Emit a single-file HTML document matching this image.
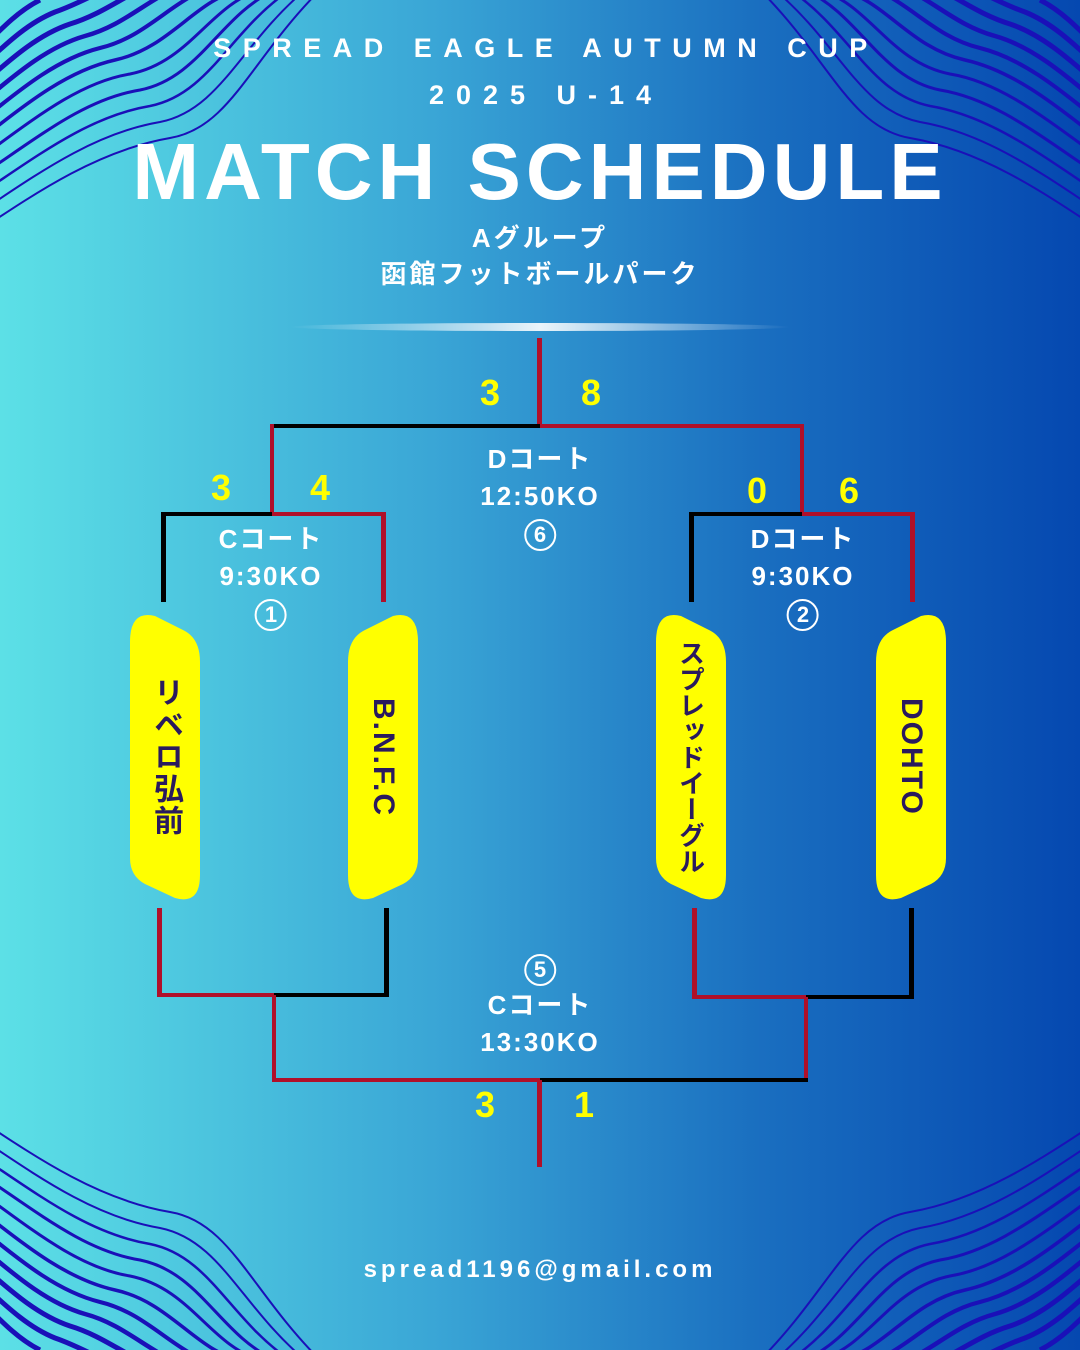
<!DOCTYPE html>
<html><head><meta charset="utf-8"><style>
*{margin:0;padding:0;box-sizing:border-box}
body{width:1080px;height:1350px;overflow:hidden;position:relative;background:linear-gradient(90deg,#5ce0e6 0%,#3aa6d6 40%,#1a6fc0 70%,#0548b0 100%);font-family:"Liberation Sans","Noto Sans CJK JP",sans-serif;color:#fff}
.t{position:absolute;left:0;width:1080px;text-align:center;font-weight:bold;white-space:nowrap}
.l{position:absolute;background:#000}
.r{position:absolute;background:#b0102a}
.s{position:absolute;color:#ffff00;font-weight:bold;font-size:36px;transform:translateX(-50%);line-height:1}
.c{position:absolute;text-align:center;font-weight:bold;font-size:26px;line-height:37px;letter-spacing:2px;transform:translateX(-50%);white-space:nowrap}
.p{position:absolute;width:70px;height:290px;color:#2a1a5e;font-weight:bold;font-size:30px;writing-mode:vertical-rl;display:flex;align-items:center;justify-content:center;letter-spacing:2px}
.n{display:inline-block;width:32px;height:32px;border:2px solid #fff;border-radius:50%;font-size:22px;line-height:28px;letter-spacing:0}
</style></head><body>
<svg width="1080" height="1350" style="position:absolute;left:0;top:0">
<defs><g id="w" fill="none" stroke="#1a10b8">
<path d="M-20,230 C40,190 100,150 170,138 C230,128 250,60 320,-10" stroke-width="2"/>
<path d="M-20,212 C40,172 95,133 160,122 C220,110 240,45 305,-10" stroke-width="2"/>
<path d="M-20,194 C40,154 90,116 150,106 C210,94 230,30 290,-10" stroke-width="2.5"/>
<path d="M-20,176 C40,136 85,99 140,90 C200,78 220,15 275,-10" stroke-width="3"/>
<path d="M-20,158 C35,118 80,82 130,74 C190,62 210,5 260,-10" stroke-width="3"/>
<path d="M-20,140 C30,100 70,70 115,60 C170,48 195,0 240,-10" stroke-width="3.5"/>
<path d="M-20,122 C25,85 60,58 100,48 C150,36 175,-5 220,-15" stroke-width="4"/>
<path d="M-20,104 C20,70 50,46 85,36 C130,24 155,-10 200,-20" stroke-width="4.5"/>
<path d="M-20,86 C15,55 40,34 70,24 C110,12 135,-15 180,-25" stroke-width="5"/>
<path d="M-20,68 C10,40 30,22 55,12 C90,0 115,-20 160,-30" stroke-width="5"/>
<path d="M-20,50 C5,25 20,10 40,0" stroke-width="5"/>
</g>
<path id="pl" d="M130,642 Q130,610 155,616 L183,630 Q200,638 200,662 L200,875 Q200,905 175,898 L145,884 Q130,876 130,858 Z" fill="#ffff00"/>
<linearGradient id="g" x1="0" x2="1"><stop offset="0" stop-color="#fff" stop-opacity="0"/><stop offset=".5" stop-color="#fff" stop-opacity=".9"/><stop offset="1" stop-color="#fff" stop-opacity="0"/></linearGradient></defs>
<use href="#w"/>
<use href="#w" transform="translate(1080,0) scale(-1,1)"/>
<use href="#w" transform="translate(0,1350) scale(1,-1)"/>
<use href="#w" transform="translate(1080,1350) scale(-1,-1)"/>
<ellipse cx="540" cy="327" rx="250" ry="4" fill="url(#g)"/>
<use href="#pl"/>
<use href="#pl" transform="translate(526,0)"/>
<use href="#pl" transform="translate(548,0) scale(-1,1)"/>
<use href="#pl" transform="translate(1076,0) scale(-1,1)"/>
</svg>
<div class="t" style="top:33px;font-size:27px;letter-spacing:11.5px;padding-left:12px">SPREAD EAGLE AUTUMN CUP</div>
<div class="t" style="top:80px;font-size:27px;letter-spacing:12px;padding-left:12px">2025 U-14</div>
<div class="t" style="top:124px;font-size:80px;letter-spacing:5px;line-height:96px">MATCH SCHEDULE</div>
<div class="t" style="top:220px;font-size:26px;letter-spacing:3px;line-height:36px">Aグループ<br>函館フットボールパーク</div>

<div class="r" style="left:537px;top:338px;width:5px;height:90px"></div>
<div class="l" style="left:272px;top:424px;width:268px;height:4px"></div>
<div class="r" style="left:540px;top:424px;width:264px;height:4px"></div>
<div class="r" style="left:270px;top:424px;width:4px;height:92px"></div>
<div class="r" style="left:800px;top:424px;width:4px;height:92px"></div>
<div class="l" style="left:161px;top:512px;width:111px;height:4px"></div>
<div class="r" style="left:272px;top:512px;width:114px;height:4px"></div>
<div class="l" style="left:161px;top:512px;width:5px;height:90px"></div>
<div class="r" style="left:381px;top:512px;width:5px;height:90px"></div>
<div class="l" style="left:689px;top:512px;width:113px;height:4px"></div>
<div class="r" style="left:802px;top:512px;width:113px;height:4px"></div>
<div class="l" style="left:689px;top:512px;width:5px;height:90px"></div>
<div class="r" style="left:910px;top:512px;width:5px;height:90px"></div>

<div class="r" style="left:157px;top:908px;width:5px;height:89px"></div>
<div class="l" style="left:384px;top:908px;width:5px;height:89px"></div>
<div class="r" style="left:157px;top:993px;width:117px;height:4px"></div>
<div class="l" style="left:274px;top:993px;width:115px;height:4px"></div>
<div class="r" style="left:692px;top:908px;width:5px;height:91px"></div>
<div class="l" style="left:909px;top:908px;width:5px;height:91px"></div>
<div class="r" style="left:692px;top:995px;width:114px;height:4px"></div>
<div class="l" style="left:806px;top:995px;width:108px;height:4px"></div>
<div class="r" style="left:272px;top:995px;width:4px;height:87px"></div>
<div class="r" style="left:804px;top:997px;width:4px;height:85px"></div>
<div class="r" style="left:272px;top:1078px;width:268px;height:4px"></div>
<div class="l" style="left:540px;top:1078px;width:268px;height:4px"></div>
<div class="r" style="left:537px;top:1080px;width:5px;height:87px"></div>

<div class="s" style="left:490px;top:375px">3</div>
<div class="s" style="left:591px;top:375px">8</div>
<div class="s" style="left:221px;top:470px">3</div>
<div class="s" style="left:320px;top:470px">4</div>
<div class="s" style="left:757px;top:473px">0</div>
<div class="s" style="left:849px;top:473px">6</div>
<div class="s" style="left:485px;top:1087px">3</div>
<div class="s" style="left:584px;top:1087px">1</div>

<div class="c" style="left:540px;top:441px">Dコート<br>12:50KO<br><span class="n">6</span></div>
<div class="c" style="left:271px;top:521px">Cコート<br>9:30KO<br><span class="n">1</span></div>
<div class="c" style="left:803px;top:521px">Dコート<br>9:30KO<br><span class="n">2</span></div>
<div class="c" style="left:540px;top:950px"><span class="n">5</span><br>Cコート<br>13:30KO</div>

<div class="p" style="left:130px;top:612px">リベロ弘前</div>
<div class="p" style="left:348px;top:612px">B.N.F.C</div>
<div class="p" style="left:656px;top:612px;font-size:26px;letter-spacing:0">スプレッドイーグル</div>
<div class="p" style="left:876px;top:612px">DOHTO</div>

<div class="t" style="top:1256px;font-size:24px;letter-spacing:4px">spread1196@gmail.com</div>
</body></html>
